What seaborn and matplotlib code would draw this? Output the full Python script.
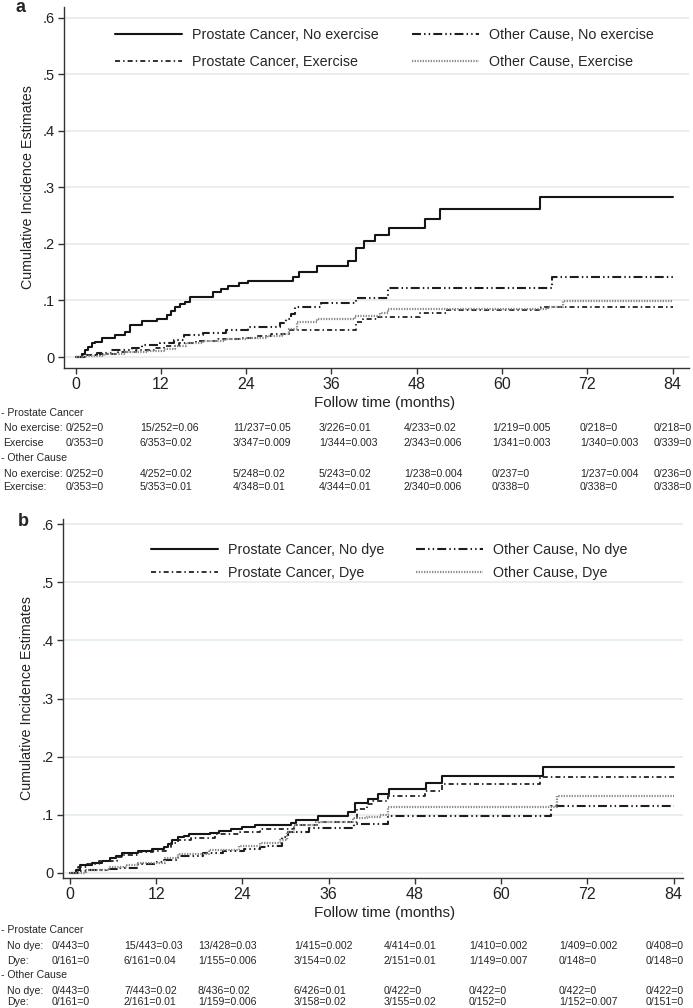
import numpy as np
import pandas as pd
import matplotlib
matplotlib.use("Agg")
import matplotlib.pyplot as plt
import seaborn as sns

# ---------------- data ----------------
series_a = ["Prostate Cancer, No exercise", "Prostate Cancer, Exercise",
            "Other Cause, No exercise", "Other Cause, Exercise"]
series_b = ["Prostate Cancer, No dye", "Prostate Cancer, Dye",
            "Other Cause, No dye", "Other Cause, Dye"]

# Panel a: cumulative incidence step functions (months, estimate)
a_pc_noex_t = [0, 0.9, 1.3, 1.8, 2.3, 2.8, 3.7, 5.6, 6.9, 7.6, 9.3, 11.4, 12.8, 13.4, 14.0,
               14.7, 15.4, 16.1, 19.3, 20.4, 21.5, 23.0, 24.2, 30.6, 31.5, 34.0, 38.3, 39.5,
               40.6, 42.1, 44.1, 49.1, 51.3, 65.3, 84]
a_pc_noex_y = [0, 0.005, 0.012, 0.018, 0.024, 0.027, 0.034, 0.039, 0.045, 0.0565, 0.063, 0.068,
               0.075, 0.082, 0.088, 0.094, 0.098, 0.1055, 0.115, 0.12, 0.125, 0.13, 0.135, 0.142,
               0.15, 0.16, 0.17, 0.193, 0.205, 0.216, 0.228, 0.244, 0.262, 0.283, 0.283]

a_pc_ex_t = [0, 1.5, 3.5, 6.0, 8.5, 11.0, 12.5, 14.5, 17.0, 20.0, 23.0, 25.5, 27.5, 30.0, 39.4,
             40.4, 42.5, 48.5, 52.2, 65.5, 84]
a_pc_ex_y = [0, 0.003, 0.006, 0.009, 0.012, 0.016, 0.02, 0.025, 0.028, 0.031, 0.034, 0.037,
             0.04, 0.048, 0.062, 0.067, 0.0713, 0.077, 0.083, 0.089, 0.089]

a_oc_noex_t = [0, 1.2, 3.0, 5.0, 8.0, 9.4, 11.9, 13.8, 15.3, 18.0, 21.2, 24.2, 28.8, 29.6, 30.3,
               30.9, 34.5, 39.5, 43.9, 67.0, 84]
a_oc_noex_y = [0, 0.004, 0.0065, 0.0124, 0.016, 0.021, 0.024, 0.03, 0.039, 0.043, 0.0477, 0.0536,
               0.06, 0.068, 0.076, 0.089, 0.096, 0.104, 0.122, 0.141, 0.141]

a_oc_ex_t = [0, 1.0, 4.0, 7.0, 10.0, 12.5, 14.0, 15.5, 18.0, 21.0, 24.0, 27.0, 29.0, 30.0, 31.2,
             33.9, 39.3, 42.8, 44.0, 66.5, 68.6, 84]
a_oc_ex_y = [0, 0.002, 0.005, 0.008, 0.011, 0.015, 0.02, 0.025, 0.028, 0.031, 0.034, 0.037, 0.04,
             0.05, 0.062, 0.0666, 0.0724, 0.078, 0.0848, 0.088, 0.0995, 0.0995]

# Panel b
b_pc_nodye_t = [0, 0.9, 1.4, 3.0, 4.4, 5.6, 6.4, 7.2, 9.5, 11.4, 13.1, 13.7, 14.2, 15.0, 15.8,
                16.6, 19.5, 20.8, 22.4, 23.9, 25.8, 30.8, 31.5, 34.5, 38.7, 39.6, 41.4, 42.8,
                44.4, 49.6, 51.8, 65.8, 84]
b_pc_nodye_y = [0, 0.006, 0.0138, 0.0178, 0.0207, 0.0253, 0.029, 0.035, 0.0385, 0.0408, 0.045,
                0.05, 0.056, 0.0616, 0.064, 0.0667, 0.0695, 0.0724, 0.0752, 0.0786, 0.0828,
                0.0856, 0.0914, 0.098, 0.1057, 0.12, 0.1276, 0.136, 0.144, 0.1546, 0.167,
                0.1816, 0.1816]

b_pc_dye_t = [0, 1.1, 2.4, 4.0, 6.5, 7.4, 9.5, 11.5, 13.3, 14.0, 15.0, 16.8, 20.2, 23.6, 26.4,
              31.2, 34.6, 39.9, 41.3, 42.1, 44.3, 49.4, 51.8, 65.4, 84]
b_pc_dye_y = [0, 0.0098, 0.0155, 0.021, 0.028, 0.031, 0.0357, 0.0384, 0.045, 0.051, 0.057, 0.06,
              0.067, 0.071, 0.075, 0.083, 0.087, 0.11, 0.118, 0.123, 0.1316, 0.1417, 0.1534,
              0.165, 0.165]

b_oc_nodye_t = [0, 1.2, 2.4, 5.0, 6.6, 9.5, 12.0, 13.1, 15.0, 18.5, 21.3, 24.2, 26.5, 27.4, 29.5,
                30.3, 33.3, 39.5, 44.2, 67.0, 84]
b_oc_nodye_y = [0, 0.003, 0.005, 0.007, 0.0085, 0.0155, 0.0195, 0.023, 0.0295, 0.034, 0.037,
                0.041, 0.044, 0.047, 0.062, 0.0713, 0.077, 0.0838, 0.098, 0.1144, 0.1144]

b_oc_dye_t = [0, 2.2, 5.5, 7.9, 9.5, 13.2, 15.1, 19.3, 23.5, 26.4, 29.2, 30.2, 31.2, 34.3, 39.4,
              41.3, 43.1, 44.3, 67.8, 84]
b_oc_dye_y = [0, 0.006, 0.01, 0.013, 0.018, 0.025, 0.033, 0.039, 0.046, 0.052, 0.057, 0.07,
              0.083, 0.0875, 0.094, 0.096, 0.1, 0.113, 0.1316, 0.1316]

x_ticks = [0, 12, 24, 36, 48, 60, 72, 84]
y_ticks = [0, 0.1, 0.2, 0.3, 0.4, 0.5, 0.6]
y_tick_labels = ["0", ".1", ".2", ".3", ".4", ".5", ".6"]

# Number-at-risk style tables
tab_a_headers = ["- Prostate Cancer", "- Other Cause"]
tab_a_rowlabels = ["No exercise:", "Exercise", "No exercise:", "Exercise:"]
tab_a_pc_noex = ["0/252=0", "15/252=0.06", "11/237=0.05", "3/226=0.01", "4/233=0.02",
                 "1/219=0.005", "0/218=0", "0/218=0"]
tab_a_pc_ex = ["0/353=0", "6/353=0.02", "3/347=0.009", "1/344=0.003", "2/343=0.006",
               "1/341=0.003", "1/340=0.003", "0/339=0"]
tab_a_oc_noex = ["0/252=0", "4/252=0.02", "5/248=0.02", "5/243=0.02", "1/238=0.004",
                 "0/237=0", "1/237=0.004", "0/236=0"]
tab_a_oc_ex = ["0/353=0", "5/353=0.01", "4/348=0.01", "4/344=0.01", "2/340=0.006",
               "0/338=0", "0/338=0", "0/338=0"]

tab_b_headers = ["- Prostate Cancer", "- Other Cause"]
tab_b_rowlabels = ["No dye:", "Dye:", "No dye:", "Dye:"]
tab_b_pc_nodye = ["0/443=0", "15/443=0.03", "13/428=0.03", "1/415=0.002", "4/414=0.01",
                  "1/410=0.002", "1/409=0.002", "0/408=0"]
tab_b_pc_dye = ["0/161=0", "6/161=0.04", "1/155=0.006", "3/154=0.02", "2/151=0.01",
                "1/149=0.007", "0/148=0", "0/148=0"]
tab_b_oc_nodye = ["0/443=0", "7/443=0.02", "8/436=0.02", "6/426=0.01", "0/422=0",
                  "0/422=0", "0/422=0", "0/422=0"]
tab_b_oc_dye = ["0/161=0", "2/161=0.01", "1/159=0.006", "3/158=0.02", "3/155=0.02",
                "0/152=0", "1/152=0.007", "0/151=0"]

x_label = "Follow time (months)"
y_label = "Cumulative Incidence Estimates"

# ---------------- build long-form frames ----------------
def long_frame(names, ts, ys):
    parts = []
    for n, t, y in zip(names, ts, ys):
        parts.append(pd.DataFrame({"series": n, "month": t, "cif": y}))
    return pd.concat(parts, ignore_index=True)

df_a = long_frame(series_a, [a_pc_noex_t, a_pc_ex_t, a_oc_noex_t, a_oc_ex_t],
                  [a_pc_noex_y, a_pc_ex_y, a_oc_noex_y, a_oc_ex_y])
df_b = long_frame(series_b, [b_pc_nodye_t, b_pc_dye_t, b_oc_nodye_t, b_oc_dye_t],
                  [b_pc_nodye_y, b_pc_dye_y, b_oc_nodye_y, b_oc_dye_y])

# ---------------- style ----------------
sns.set_style("white")
plt.rcParams["font.family"] = ["Liberation Sans", "DejaVu Sans"]

W, H = 693, 1008
fig = plt.figure(figsize=(W / 100, H / 100), dpi=100)

line_colors = ["#151515", "#222222", "#1e1e1e", "#8a8a8a"]
line_dashes = ["", (2.8, 1.7, 0.8, 1.7), (4.3, 1.5, 0.7, 1.5, 0.7, 1.5), (0.6, 0.6)]
line_widths = [1.5, 1.3, 1.5, 1.6]


def draw_panel(ax, df, names, xlim, ylim):
    sns.lineplot(data=df, x="month", y="cif", hue="series", style="series", size="series",
                 hue_order=names, style_order=names, size_order=names,
                 palette=dict(zip(names, line_colors)),
                 dashes=dict(zip(names, line_dashes)),
                 sizes=dict(zip(names, line_widths)),
                 drawstyle="steps-post", estimator=None, sort=False,
                 legend=False, ax=ax)
    ax.set_xlim(*xlim)
    ax.set_ylim(*ylim)
    ax.set_xticks(x_ticks)
    ax.set_xticklabels([str(v) for v in x_ticks], fontsize=11.5)
    ax.set_yticks(y_ticks)
    ax.set_yticklabels(y_tick_labels, fontsize=10.5)
    ax.set_xlabel("")
    ax.set_ylabel(y_label, fontsize=10.3, color="#222222")
    ax.yaxis.grid(True, color="#e3ecee", lw=1.2)
    ax.xaxis.grid(False)
    ax.set_axisbelow(True)
    for s in ["top", "right"]:
        ax.spines[s].set_visible(False)
    for s in ["left", "bottom"]:
        ax.spines[s].set_color("#333333")
        ax.spines[s].set_linewidth(1.0)
    ax.tick_params(axis="both", direction="out", length=4.5, width=1, color="#333333",
                   labelcolor="#222222", left=True, bottom=True)
    ax.tick_params(axis="x", pad=2)
    ax.tick_params(axis="y", pad=2.5)
    ax.patch.set_alpha(0)


# Panel a
ax_a = fig.add_axes([64 / W, 1 - 368 / H, 625 / W, 361 / H])
draw_panel(ax_a, df_a, series_a, (-1.62, 86.3), (-0.0194, 0.6186))
ax_a.yaxis.set_label_coords(-0.047, 0.5)
ax_a.legend(ax_a.get_lines(), series_a, ncol=2, loc="upper left",
            bbox_to_anchor=(115 / W, 1 - 28 / H), bbox_transform=fig.transFigure,
            frameon=False, fontsize=10.3, handlelength=4.7, handletextpad=0.7,
            columnspacing=2.3, labelspacing=0.92, borderpad=0, borderaxespad=0)

# Panel b
ax_b = fig.add_axes([63 / W, 1 - 878 / H, 620 / W, 359 / H])
draw_panel(ax_b, df_b, series_b, (-0.97, 85.3), (-0.0086, 0.6086))
ax_b.yaxis.set_label_coords(-0.046, 0.5)
ax_b.legend(ax_b.get_lines(), series_b, ncol=2, loc="upper left",
            bbox_to_anchor=(151 / W, 1 - 543 / H), bbox_transform=fig.transFigure,
            frameon=False, fontsize=10.3, handlelength=4.7, handletextpad=0.7,
            columnspacing=2.2, labelspacing=0.62, borderpad=0, borderaxespad=0)

# Panel letters
fig.text(21 / W, 1 - 7 / H, "a", fontsize=13, fontweight="bold", ha="center", va="center")
fig.text(23 / W, 1 - 521 / H, "b", fontsize=13, fontweight="bold", ha="center", va="center")

# X axis titles
fig.text(385 / W, 1 - 403 / H, x_label, fontsize=11,
         ha="center", va="center", color="#222222")
fig.text(385 / W, 1 - 913 / H, x_label, fontsize=11,
         ha="center", va="center", color="#222222")

# Tables
TAB_FS = 7.6


def draw_table(headers, rowlabels, rows, header_x, label_x, col_x, row_y):
    # row_y: header1, row1, row2, header2, row3, row4
    fig.text(header_x / W, 1 - row_y[0] / H, headers[0], fontsize=TAB_FS, va="center")
    fig.text(header_x / W, 1 - row_y[3] / H, headers[1], fontsize=TAB_FS, va="center")
    ys = [row_y[1], row_y[2], row_y[4], row_y[5]]
    for lab, vals, yy in zip(rowlabels, rows, ys):
        fig.text(label_x / W, 1 - yy / H, lab, fontsize=TAB_FS, va="center")
        for v, xx in zip(vals, col_x):
            fig.text(xx / W, 1 - yy / H, v, fontsize=TAB_FS, va="center")


draw_table(tab_a_headers, tab_a_rowlabels,
           [tab_a_pc_noex, tab_a_pc_ex, tab_a_oc_noex, tab_a_oc_ex],
           1, 3.5, [66, 140, 233, 319, 404, 492, 580, 654],
           [413, 428, 443, 458, 474, 487])
draw_table(tab_b_headers, tab_b_rowlabels,
           [tab_b_pc_nodye, tab_b_pc_dye, tab_b_oc_nodye, tab_b_oc_dye],
           1, 7, [52, 124, 198, 294, 384, 469, 559, 646],
           [930, 946, 961, 975, 991, 1002])

fig.savefig("out.png", dpi=100)
